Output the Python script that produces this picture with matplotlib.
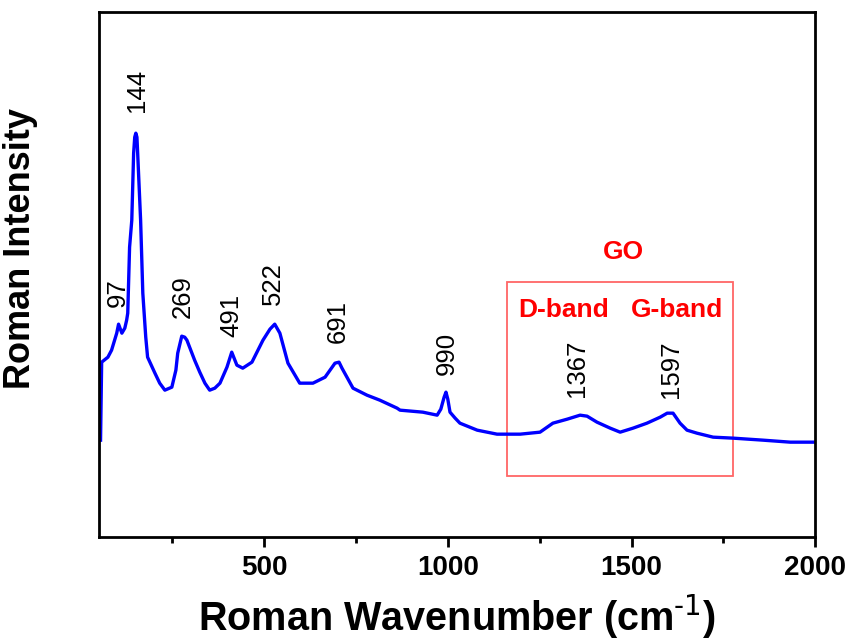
import numpy as np
import matplotlib
matplotlib.use("Agg")
import matplotlib.pyplot as plt
from matplotlib.patches import Rectangle
from matplotlib.ticker import MultipleLocator

wavenumber = [55, 58, 75, 85, 99, 104, 113, 121, 126, 129, 134, 140, 145, 148, 151, 154, 156,
              164, 170, 178, 183, 203, 216, 230, 249, 260, 265, 276, 284, 290, 311,
              325, 339, 352, 366, 380, 399, 412, 426, 442, 467, 497, 516, 529, 543,
              565, 597, 633, 666, 693, 704, 712, 742, 780, 815, 862, 870, 932, 971,
              981, 990, 995, 1000, 1006, 1020, 1033, 1080, 1134, 1197, 1251, 1286, 1325,
              1360, 1379, 1406, 1442, 1469, 1504, 1542, 1578, 1597, 1613, 1632, 1651,
              1678, 1722, 1777, 1858, 1932, 1995]
intensity = [97, 175, 180, 187, 204, 213, 204, 209, 217, 224, 290, 317, 384, 400, 404, 400, 384,
             317, 244, 200, 180, 164, 154, 147, 150, 167, 184, 201, 200, 197, 177,
             165, 154, 147, 149, 154, 170, 185, 172, 169, 175, 197, 208, 213, 204,
             174, 154, 154, 160, 174, 175, 169, 149, 142, 137, 129, 127, 125, 122,
             128, 140, 145, 138, 125, 119, 114, 107, 103, 103, 105, 114, 118,
             122, 121, 115, 109, 105, 109, 114, 120, 124, 124, 114, 107,
             104, 100, 99, 97, 95, 95]

# peak labels: text, x, y of label base
peak_labels = ["97", "144", "269", "491", "522", "691", "990", "1367", "1597"]
peak_x = [102, 153, 279, 412, 524, 701, 998, 1352, 1608]
peak_y = [230, 425, 219, 200, 232, 194, 162, 140, 139]

# GO region box
box_x = (1161, 1777)
box_y = (61, 255)

fig = plt.figure(figsize=(8.51, 6.41), dpi=100)
ax = fig.add_axes([0.116, 0.162, 0.842, 0.819])

ax.plot(wavenumber, intensity, color='#0000ff', linewidth=2.4, solid_joinstyle='round')

narrow = ['Liberation Sans Narrow', 'Liberation Sans', 'DejaVu Sans']
for lab, px, py in zip(peak_labels, peak_x, peak_y):
    ax.text(px, py, lab, rotation=90, ha='center', va='bottom',
            fontsize=18.5, family=narrow, color='black')

ax.add_patch(Rectangle((box_x[0], box_y[0]), box_x[1] - box_x[0], box_y[1] - box_y[0],
                       fill=False, edgecolor='#ff0000', alpha=0.6, linewidth=1.3))
red_font = {'family': ['Liberation Sans', 'DejaVu Sans'], 'weight': 'bold',
            'size': 19, 'color': '#ff0000'}
ax.text(1477, 285, 'GO', ha='center', va='center', **red_font)
ax.text(1314, 227, 'D-band', ha='center', va='center', **red_font)
ax.text(1624, 227, 'G-band', ha='center', va='center', **red_font)

ax.set_xlim(50, 2000)
ax.set_ylim(0, 525)
ax.xaxis.set_major_locator(MultipleLocator(500))
ax.xaxis.set_minor_locator(MultipleLocator(250))
ax.set_yticks([])
ax.tick_params(axis='x', which='major', direction='out', length=7, width=2, pad=6,
               labelsize=20)
ax.tick_params(axis='x', which='minor', direction='out', length=4, width=2)
for lbl in ax.get_xticklabels():
    lbl.set_family(['Liberation Sans', 'DejaVu Sans'])
    lbl.set_fontweight('bold')
for s in ax.spines.values():
    s.set_linewidth(2)

ax.set_xlabel('Roman Wavenumber (cm$^{\\text{-1}}$)', fontsize=28.5, fontweight='bold',
              family=['Liberation Sans', 'DejaVu Sans'], labelpad=8)
ax.set_ylabel('Roman Intensity', fontsize=26, fontweight='bold',
              family=['Liberation Sans', 'DejaVu Sans'])
ax.yaxis.set_label_coords(-0.085, 0.55)

plt.savefig('out.png', dpi=100)
